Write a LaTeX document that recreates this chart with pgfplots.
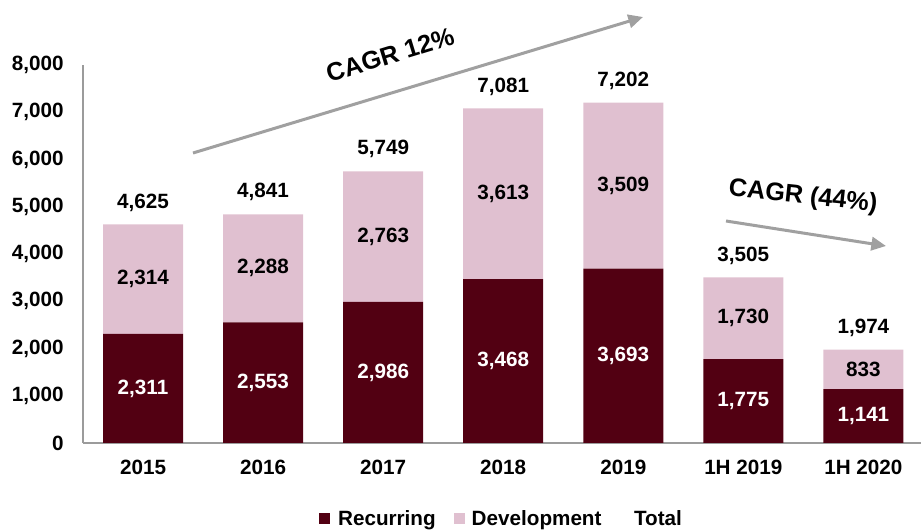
\documentclass[border=0pt]{standalone}
\usepackage{fontspec}
\setmainfont{Liberation Sans}
\usepackage{pgfplots}
\pgfplotsset{compat=1.18}
\usetikzlibrary{arrows.meta}

\definecolor{recur}{RGB}{82,0,18}
\definecolor{devel}{RGB}{224,192,208}
\definecolor{arrowgray}{RGB}{160,160,160}
\definecolor{axisgray}{RGB}{155,155,155}

\pgfkeys{/pgf/number format/.cd, fixed, 1000 sep={,}, assume math mode=true}
\newcommand\lblfont{\fontsize{15.5}{18}\selectfont\bfseries}

% shared geometry of the main axis and the label overlay
\pgfplotsset{chartframe/.style={
    at={(62.25pt,66pt)}, anchor=south west,
    scale only axis,
    width=628.5pt, height=283.5pt,
    xmin=-0.5, xmax=6.48,
    ymin=0, ymax=8000,
}}

\begin{document}
\begin{tikzpicture}[x=0.75pt,y=0.75pt]
\useasboundingbox (0,0) rectangle (921,531);
\begin{axis}[
    chartframe,
    ybar stacked,
    bar width=60pt,
    xtick=data,
    xticklabels={2015, 2016, 2017, 2018, 2019, 1H 2019, 1H 2020},
    ytick={0,1000,...,8000},
    scaled y ticks=false,
    tick label style={font=\lblfont},
    yticklabel style={xshift=-11pt},
    xticklabel style={yshift=-9pt},
    axis x line*=bottom,
    axis y line*=left,
    axis line style={axisgray, line width=1.5pt, -},
    major tick length=0pt,
    tick style={draw=none},
    legend style={at={(0.5,-0.2)}, anchor=center, draw=none,
        font=\lblfont,
        /tikz/every even column/.append style={column sep=12pt}},
    legend columns=3,
    legend cell align=left,
]

% Recurring
\addplot[fill=recur, draw=none,
    legend image code/.code={\fill[recur] (0pt,-4pt) rectangle (8pt,4pt); \path (12pt,0pt);}]
coordinates {(0,2311) (1,2553) (2,2986) (3,3468) (4,3693) (5,1775) (6,1141)};

% Development
\addplot[fill=devel, draw=none,
    legend image code/.code={\fill[devel] (0pt,-4pt) rectangle (8pt,4pt); \path (11pt,0pt);}]
coordinates {(0,2314) (1,2288) (2,2763) (3,3613) (4,3509) (5,1730) (6,833)};

% Total (legend entry only)
\addlegendimage{legend image code/.code={\path (0pt,0pt) (8pt,0pt);}}

\legend{Recurring, Development, Total}
\end{axis}

% value labels, placed in the same frame
\begin{axis}[chartframe, hide axis]
\addplot[draw=none, mark=none, point meta=explicit, nodes near coords,
    nodes near coords style={font=\lblfont, white, anchor=center}]
coordinates {
    (0,1155.5)[2311] (1,1276.5)[2553] (2,1493)[2986] (3,1734)[3468]
    (4,1846.5)[3693] (5,887.5)[1775] (6,570.5)[1141]
};
\addplot[draw=none, mark=none, point meta=explicit, nodes near coords,
    nodes near coords style={font=\lblfont, black, anchor=center}]
coordinates {
    (0,3468)[2314] (1,3697)[2288] (2,4367.5)[2763] (3,5274.5)[3613]
    (4,5447.5)[3509] (5,2640)[1730] (6,1557.5)[833]
};
\addplot[draw=none, mark=none, point meta=explicit, nodes near coords,
    nodes near coords style={font=\lblfont, black, anchor=center, yshift=16.5pt}]
coordinates {
    (0,4625)[4625] (1,4841)[4841] (2,5749)[5749] (3,7081)[7081]
    (4,7202)[7202] (5,3505)[3505] (6,1974)[1974]
};
\end{axis}

\draw[arrowgray, line width=2.25pt, -{Triangle[length=11pt,width=10pt]}]
    (193,378) -- (643,514);
\node[rotate=17, font=\fontsize{19}{22}\selectfont\bfseries] at (390,476) {CAGR 12\%};

\draw[arrowgray, line width=2.25pt, -{Triangle[length=11pt,width=10pt]}]
    (726,310) -- (886,285);
\node[rotate=-6, font=\fontsize{19}{22}\selectfont\bfseries] at (803,334) {CAGR (44\%)};
\end{tikzpicture}
\end{document}
